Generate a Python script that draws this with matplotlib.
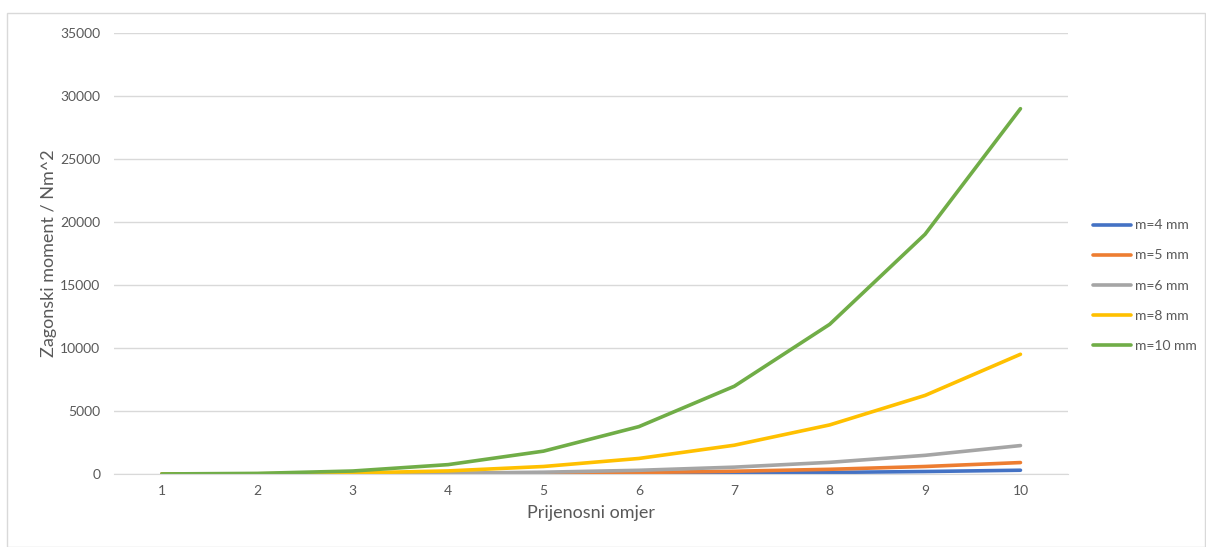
import matplotlib.pyplot as plt
from matplotlib.patches import Rectangle

omjer = [1, 2, 3, 4, 5, 6, 7, 8, 9, 10]
m4 = [0, 1, 2, 8, 19, 38, 71, 122, 195, 297]
m5 = [0, 1, 7, 23, 57, 117, 218, 371, 594, 906]
m6 = [0, 4, 18, 58, 141, 292, 542, 924, 1480, 2255]
m8 = [1, 15, 77, 243, 594, 1232, 2283, 3894, 6236, 9503]
m10 = [3, 46, 235, 742, 1812, 3758, 6963, 11880, 19030, 29000]
labels = ["m=4 mm", "m=5 mm", "m=6 mm", "m=8 mm", "m=10 mm"]
colors = ["#4472C4", "#ED7D31", "#A5A5A5", "#FFC000", "#70AD47"]

plt.rcParams['font.family'] = ['Lato', 'DejaVu Sans']

fig = plt.figure(figsize=(12.06, 5.47), dpi=100)
fig.patches.append(Rectangle((7 / 1206, 0), 1 - 7 / 1206 - 0.001, 1 - 13 / 547,
                             transform=fig.transFigure, fill=False,
                             edgecolor="#D9D9D9", linewidth=1))
ax = fig.add_axes([0.0947, 0.1335, 0.791, 0.806])

for data, lab, col in zip([m4, m5, m6, m8, m10], labels, colors):
    ax.plot(omjer, data, color=col, linewidth=2.6, label=lab, solid_capstyle='round')

ax.set_xlim(0.5, 10.5)
ax.set_ylim(0, 35000)
ax.set_yticks(range(0, 35001, 5000))
ax.set_xticks(omjer)
ax.grid(axis='y', color="#D9D9D9", linewidth=1)
ax.set_axisbelow(True)
for s in ['top', 'right', 'left']:
    ax.spines[s].set_visible(False)
ax.spines['bottom'].set_color("#D9D9D9")
ax.tick_params(axis='both', length=0, labelsize=10, colors="#595959", pad=8)
ax.tick_params(axis='y', pad=10)
ax.set_xlabel("Prijenosni omjer", fontsize=13, color="#595959", labelpad=6)
ax.set_ylabel("Zagonski moment / Nm^2", fontsize=13, color="#595959", labelpad=2)

fig.legend(loc='center left', bbox_to_anchor=(0.896, 0.478), frameon=False,
           fontsize=10, labelcolor="#595959", handlelength=2.7,
           labelspacing=1.3, handletextpad=0.3)

plt.savefig("out.png", dpi=100)
